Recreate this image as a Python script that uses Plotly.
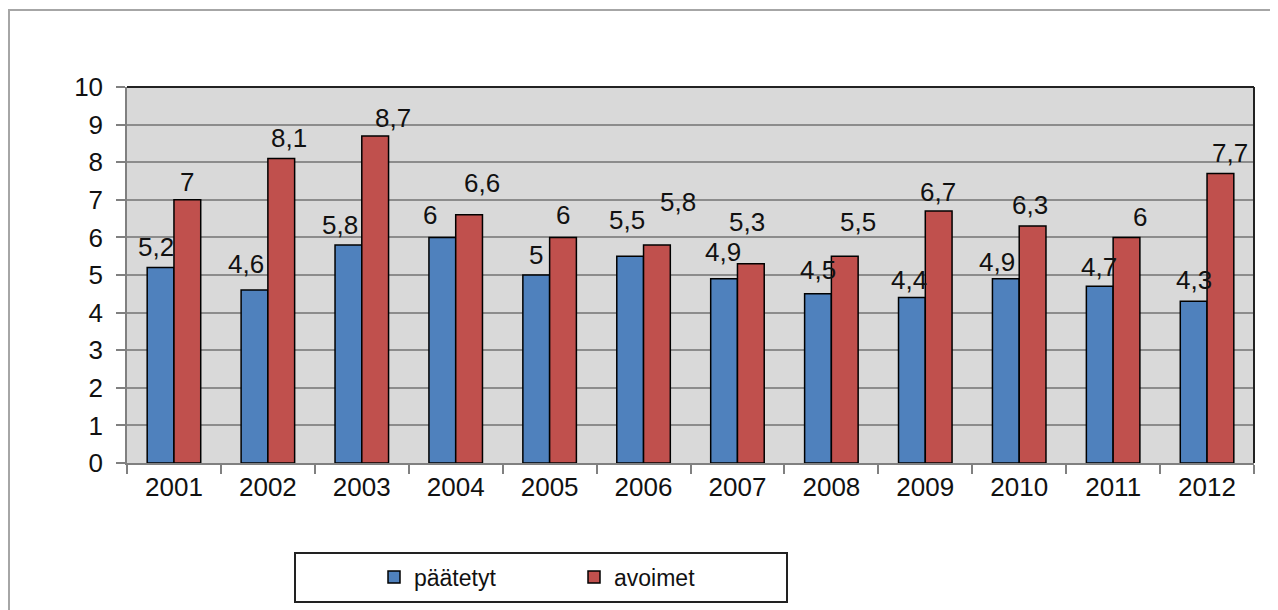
import plotly.graph_objects as go

years = ["2001", "2002", "2003", "2004", "2005", "2006", "2007", "2008", "2009", "2010", "2011", "2012"]
paatetyt = [5.2, 4.6, 5.8, 6, 5, 5.5, 4.9, 4.5, 4.4, 4.9, 4.7, 4.3]
avoimet = [7, 8.1, 8.7, 6.6, 6, 5.8, 5.3, 5.5, 6.7, 6.3, 6, 7.7]
y_ticks = list(range(0, 11))

# label placement nudges (px) mimicking the original's collision-avoiding label layout
blue_dx = [-5, -8, -8, -12, 0, -3, -1, 0, -3, -9, -1, 0]
blue_dy = [0, 6, 0, 2, 0, 16, 7, 4, -2, -3, -1, 1]
red_dx = [0, 8, 18, 13, 0, 21, -4, 13, -1, -3, 13, 10]
red_dy = [-2, 0, -2, 12, 2, 23, 22, 14, -1, 1, 0, 0]

OFF = 8  # page body margin
W, H = 1278 - OFF, 610 - OFF
L, R, T, B = 127, 1254, 87, 463  # page coordinates of the plot area
FONT = "Liberation Sans, Arial, sans-serif"
BLUE, RED = "#4f81bd", "#c0504d"
BARGAP = 0.43

def px_x(x):
    return (x - L) / (R - L)

def px_y(y):
    return (B - y) / (B - T)

def fmt(v):
    return ("%g" % v).replace(".", ",")

cat_w = (R - L) / len(years)
bar_off = cat_w * (1 - BARGAP) / 4  # center offset of each bar from category center

fig = go.Figure()
fig.add_trace(go.Bar(
    x=years, y=paatetyt, name="päätetyt",
    marker=dict(color=BLUE, line=dict(color="#000000", width=1.5)),
))
fig.add_trace(go.Bar(
    x=years, y=avoimet, name="avoimet",
    marker=dict(color=RED, line=dict(color="#000000", width=1.5)),
))

annotations = []
for vals, dxs, dys, sign in ((paatetyt, blue_dx, blue_dy, -1), (avoimet, red_dx, red_dy, 1)):
    for i, (v, dx, dy) in enumerate(zip(vals, dxs, dys)):
        annotations.append(dict(
            x=i, y=v, xref="x", yref="y", text=fmt(v), showarrow=False,
            xanchor="center", yanchor="bottom",
            xshift=sign * bar_off + dx, yshift=3 + dy,
            font=dict(size=26, family=FONT, color="#111111"),
        ))

shapes = [
    dict(type="rect", xref="paper", yref="paper",
         x0=px_x(9), x1=px_x(1300), y0=px_y(10), y1=px_y(640),
         line=dict(color="#a6a6a6", width=2), layer="below"),
    dict(type="line", xref="paper", yref="paper", x0=0, x1=1, y0=1, y1=1,
         line=dict(color="#222222", width=2)),
    dict(type="line", xref="paper", yref="paper", x0=1, x1=1, y0=0, y1=1,
         line=dict(color="#222222", width=2)),
    dict(type="rect", xref="paper", yref="paper",
         x0=px_x(295), x1=px_x(787), y0=px_y(553), y1=px_y(602),
         line=dict(color="#222222", width=2), fillcolor="white", layer="below"),
]

fig.update_layout(
    width=W, height=H,
    margin=dict(l=L - OFF, r=W - (R - OFF), t=T - OFF, b=H - (B - OFF), pad=0),
    paper_bgcolor="white",
    plot_bgcolor="#d9d9d9",
    separators=", ",
    barmode="group",
    bargap=BARGAP,
    bargroupgap=0,
    font=dict(family=FONT, size=26, color="#111111"),
    shapes=shapes,
    annotations=annotations,
    showlegend=True,
    legend=dict(
        orientation="h",
        x=px_x(374), xanchor="left",
        y=px_y(577), yanchor="middle",
        bgcolor="rgba(0,0,0,0)",
        font=dict(size=23, family=FONT, color="#111111"),
        entrywidth=155, entrywidthmode="pixels",
    ),
    xaxis=dict(
        type="category",
        range=[-0.5, len(years) - 0.5],
        tickson="boundaries",
        ticks="outside", ticklen=9, tickcolor="#808080", tickwidth=1.5,
        showline=True, linecolor="#808080", linewidth=1.5,
        showgrid=False,
        tickfont=dict(size=26, family=FONT, color="#111111"),
    ),
    yaxis=dict(
        range=[0, 10],
        tickvals=y_ticks,
        ticks="outside", ticklen=9, tickcolor="#808080", tickwidth=1.5,
        showline=True, linecolor="#808080", linewidth=1.5,
        showgrid=True, gridcolor="#8c8c8c", gridwidth=1.5,
        zeroline=False,
        tickfont=dict(size=26, family=FONT, color="#111111"),
        ticklabelstandoff=8,
    ),
)

fig.write_html("out.html")
